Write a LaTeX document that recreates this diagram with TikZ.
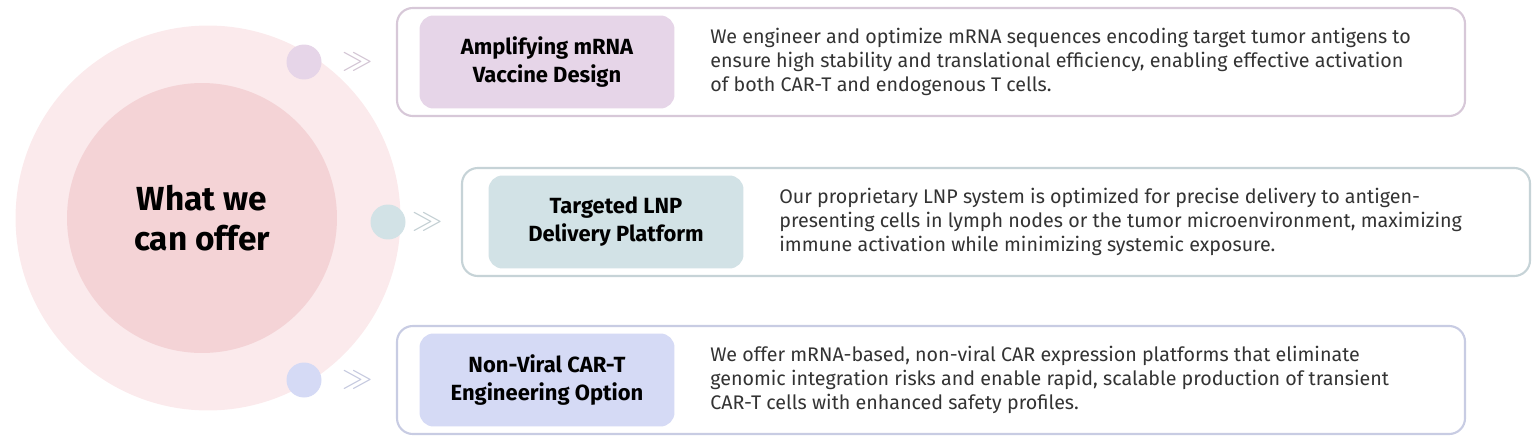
\documentclass[tikz,border=0pt]{standalone}
\usepackage{fontspec}
\setmainfont{Fira Sans}
\usetikzlibrary{positioning}
\definecolor{ringpink}{HTML}{FBEAEC}
\definecolor{corepink}{HTML}{F4D3D6}
\definecolor{amppurple}{HTML}{E6D5E8}
\definecolor{lnpteal}{HTML}{D2E2E6}
\definecolor{carblue}{HTML}{D5DAF5}
\definecolor{bodytext}{HTML}{333333}
\tikzset{
  card/.style={draw=#1, line width=1.2pt, rounded corners=9pt, fill=white},
  tag/.style={fill=#1, rounded corners=8pt, minimum width=5.1cm, minimum height=1.86cm,
    align=center, font=\fontsize{12.5}{16}\selectfont\bfseries},
  blurb/.style={anchor=west, align=left, text=bodytext, inner sep=0pt,
    font=\fontsize{11.2}{13.8}\selectfont},
  dot/.style={circle, fill=#1, minimum size=0.7cm, inner sep=0pt},
  chev/.style={text=#1, font=\fontsize{18}{18}\selectfont\bfseries},
}
\begin{document}
\begin{tikzpicture}[x=0.02cm, y=-0.02cm]
  \useasboundingbox (0,0) rectangle (1540,446);
  % left disc
  \node[circle, fill=ringpink, minimum size=7.7cm, inner sep=0pt] (ring) at (208,218) {};
  \node[circle, fill=corepink, minimum size=5.4cm, inner sep=0pt,
    font=\fontsize{19}{23}\selectfont\bfseries, align=center] (core) at (202,218) {What we\\can offer};
  % markers
  \node[dot=amppurple] (d1) at (304,62) {};
  \node[dot=lnpteal] (d2) at (388,222) {};
  \node[dot=carblue] (d3) at (304,380) {};
  \node[chev=amppurple!80!gray] (c1) at (358,62) {$\gg$};
  \node[chev=lnpteal!80!gray] (c2) at (428,222) {$\gg$};
  \node[chev=carblue!80!gray] (c3) at (358,380) {$\gg$};
  % cards
  \draw[card=amppurple!85!gray] (397,8) rectangle (1465,116);
  \draw[card=lnpteal!85!gray] (462,168) rectangle (1530,276);
  \draw[card=carblue!85!gray] (397,326) rectangle (1465,434);
  \node[tag=amppurple] (t1) at (547,62) {Amplifying mRNA\\Vaccine Design};
  \node[tag=lnpteal] (t2) at (616,222) {Targeted LNP\\Delivery Platform};
  \node[tag=carblue] (t3) at (547,380) {Non-Viral CAR-T\\Engineering Option};
  \node[blurb] (b1) at (710,62) {We engineer and optimize mRNA sequences encoding target tumor antigens to\\ensure high stability and translational efficiency, enabling effective activation\\of both CAR-T and endogenous T cells.};
  \node[blurb] (b2) at (779,222) {Our proprietary LNP system is optimized for precise delivery to antigen-\\presenting cells in lymph nodes or the tumor microenvironment, maximizing\\immune activation while minimizing systemic exposure.};
  \node[blurb] (b3) at (710,380) {We offer mRNA-based, non-viral CAR expression platforms that eliminate\\genomic integration risks and enable rapid, scalable production of transient\\CAR-T cells with enhanced safety profiles.};
\end{tikzpicture}
\end{document}
